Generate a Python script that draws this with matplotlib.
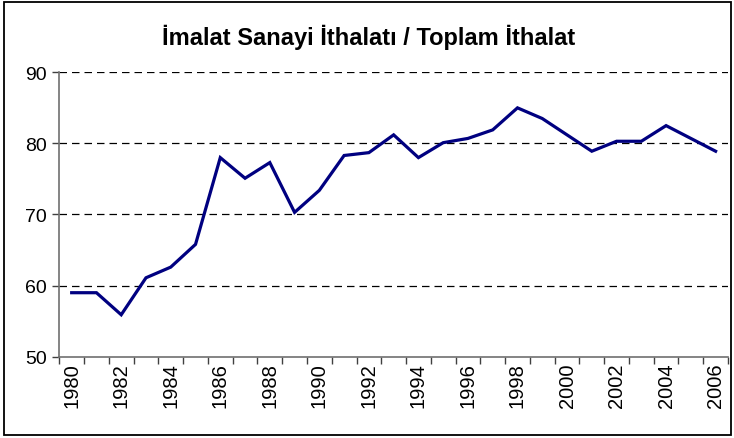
import matplotlib
matplotlib.use('Agg')
import matplotlib.pyplot as plt
from matplotlib.patches import Rectangle
import numpy as np

plt.rcParams['font.family'] = ['Liberation Sans', 'DejaVu Sans']

# data
years = list(range(1980, 2007))
share = [59.0, 59.0, 55.9, 61.1, 62.6, 65.8, 78.0, 75.1, 77.3, 70.3,
         73.4, 78.3, 78.7, 81.2, 78.0, 80.1, 80.7, 81.9, 85.0, 83.5,
         81.2, 78.9, 80.3, 80.3, 82.5, 80.7, 78.9]
yticks = [50, 60, 70, 80, 90]
title = 'İmalat Sanayi İthalatı / Toplam İthalat'

W, H = 734, 439
fig = plt.figure(figsize=(W / 100, H / 100), dpi=100)
ax = fig.add_axes([59.3 / W, 1 - 357.7 / H, (728 - 59.3) / W, (357.7 - 73.3) / H])

x = np.arange(len(years))
ax.plot(x, share, color='#000080', linewidth=2.3, solid_joinstyle='miter', zorder=3)

ax.set_xlim(-0.5, len(years) - 0.5)
ax.set_ylim(50, 90)

# y axis
ax.set_yticks(yticks)
ax.set_yticklabels([str(v) for v in yticks], fontsize=14)
for v in yticks[1:]:
    ax.axhline(v, color='black', linewidth=0.9, linestyle=(0, (6, 4)), zorder=1)

# x axis: tick marks at category boundaries, labels every 2 years
ax.set_xticks(np.arange(-0.5, len(years)), minor=False)
ax.set_xticklabels([])
ax.set_xticks(x[::2], minor=True)
ax.set_xticklabels([str(y) for y in years[::2]], minor=True, rotation=90, fontsize=14.5)
ax.tick_params(axis='x', which='minor', length=0, pad=4)
ax.tick_params(axis='x', which='major', length=5, width=1, color='#404040', direction='out')
ax.tick_params(axis='y', length=5, width=1, color='#404040', direction='out', pad=4)

for side in ['top', 'right']:
    ax.spines[side].set_visible(False)
for side in ['left', 'bottom']:
    ax.spines[side].set_color('#707070')
    ax.spines[side].set_linewidth(1.2)

fig.text(369 / W, 1 - 37 / H, title, ha='center', va='center',
         fontsize=17, fontweight='bold')

# chart area border
fig.patches.append(Rectangle((4 / W, 3 / H), (731 - 4) / W, (436 - 3) / H,
                             transform=fig.transFigure, fill=False,
                             edgecolor='black', linewidth=1.3))

fig.savefig('out.png', dpi=100)
